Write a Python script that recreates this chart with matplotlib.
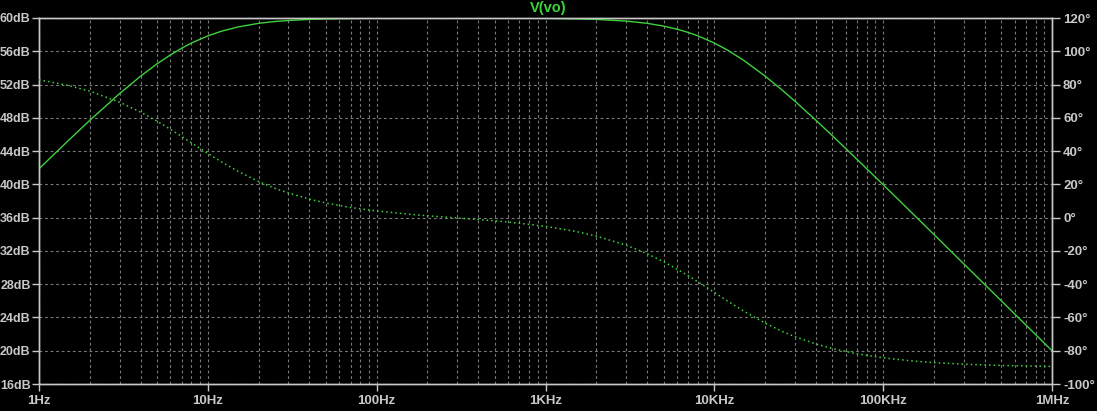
import matplotlib.pyplot as plt
from matplotlib.ticker import FixedLocator, NullFormatter, NullLocator

# frequency points (Hz)
freq = [1, 1.5, 2, 3, 4, 5, 6, 7, 8, 10, 12, 15, 20, 25, 30, 40, 50, 70,
        100, 150, 200, 300, 500, 700, 1e3, 1.5e3, 2e3, 3e3, 4e3, 5e3, 6e3,
        7e3, 8e3, 1e4, 1.2e4, 1.5e4, 2e4, 2.5e4, 3e4, 4e4, 5e4, 7e4, 1e5,
        1.5e5, 2e5, 3e5, 5e5, 7e5, 1e6]

# magnitude in dB (solid trace, left axis)
mag_db = [41.87, 45.31, 47.70, 50.91, 53.01, 54.49, 55.56, 56.37, 56.99,
          57.85, 58.40, 58.91, 59.36, 59.58, 59.70, 59.83, 59.89, 59.94,
          59.97, 59.99, 60.0, 60.0, 59.99, 59.98, 59.96, 59.90, 59.83,
          59.63, 59.36, 59.03, 58.66, 58.27, 57.85, 56.99, 56.13, 54.88,
          53.01, 51.40, 50.0, 47.70, 45.85, 43.01, 39.96, 36.46, 33.97,
          30.45, 26.02, 23.10, 20.0]

# phase in degrees (dotted trace, right axis)
phase_deg = [82.9, 79.4, 76.0, 69.4, 63.4, 58.0, 53.1, 48.8, 44.95, 38.6,
             33.6, 28.0, 21.7, 17.6, 14.8, 11.1, 8.8, 6.1, 4.0, 2.2, 1.1,
             -0.2, -1.9, -3.35, -5.25, -8.2, -11.1, -16.5, -21.7, -26.5,
             -30.9, -34.9, -38.6, -44.95, -50.2, -56.3, -63.43, -68.2,
             -71.57, -75.96, -78.69, -81.87, -84.29, -86.19, -87.14, -88.09,
             -88.85, -89.18, -89.43]

x_ticks = [1, 10, 100, 1e3, 1e4, 1e5, 1e6]
x_labels = ["1Hz", "10Hz", "100Hz", "1KHz", "10KHz", "100KHz", "1MHz"]
db_ticks = list(range(16, 61, 4))
deg_ticks = list(range(-100, 121, 20))

TRACE = "#3ed23e"
TEXT = "#c8c8c8"
GRID = "#7a7a7a"

plt.rcParams["font.family"] = ["Liberation Sans", "DejaVu Sans"]

fig = plt.figure(figsize=(10.97, 4.11), dpi=100, facecolor="black")
ax = fig.add_axes([39 / 1097, 27 / 411, 1013 / 1097, 366 / 411])
ax.set_facecolor("black")

ax.semilogx(freq, mag_db, color=TRACE, lw=1.0, zorder=3)
ax.set_xlim(1, 1e6)
ax.set_ylim(16, 60)

ax2 = ax.twinx()
ax2.semilogx(freq, phase_deg, color=TRACE, lw=1.1, linestyle=(0, (1, 2)),
             zorder=3)
ax2.set_ylim(-100, 120)

# grid: every decade and sub-decade vertically, every 4dB horizontally
minor = [m * d for d in x_ticks[:-1] for m in range(2, 10)]
ax.xaxis.set_major_locator(FixedLocator(x_ticks))
ax.xaxis.set_minor_locator(FixedLocator(minor))
ax.xaxis.set_minor_formatter(NullFormatter())
ax.set_xticklabels(x_labels)
ax.set_yticks(db_ticks)
ax.set_yticklabels([f"{v}dB" for v in db_ticks])
ax2.set_yticks(deg_ticks)
ax2.set_yticklabels([f"{v}°" for v in deg_ticks])
ax2.yaxis.set_minor_locator(NullLocator())

for a in (ax, ax2):
    for s in a.spines.values():
        s.set_color(TEXT)
        s.set_linewidth(1.0)

ax.grid(True, which="both", axis="x", color=GRID, linestyle=(0, (2.5, 2.5)),
        lw=0.8)
ax.grid(True, which="major", axis="y", color=GRID, linestyle=(0, (2.5, 2.5)),
        lw=0.8)

ax.tick_params(axis="x", which="major", colors=TEXT, length=5, width=1,
               pad=3, labelsize=9.5)
ax.tick_params(axis="x", which="minor", length=0)
ax.tick_params(axis="y", colors=TEXT, length=5, width=1, pad=1,
               labelsize=9)
ax2.tick_params(axis="y", colors=TEXT, length=6, width=1, pad=2,
                labelsize=9.5)
for lbl in ax.get_xticklabels() + ax.get_yticklabels() + ax2.get_yticklabels():
    lbl.set_fontweight("bold")

fig.text(0.4995, 0.981, "V(vo)", color=TRACE, fontsize=10.5, fontweight="bold",
         ha="center", va="center")

fig.savefig("out.png", dpi=100, facecolor="black")
